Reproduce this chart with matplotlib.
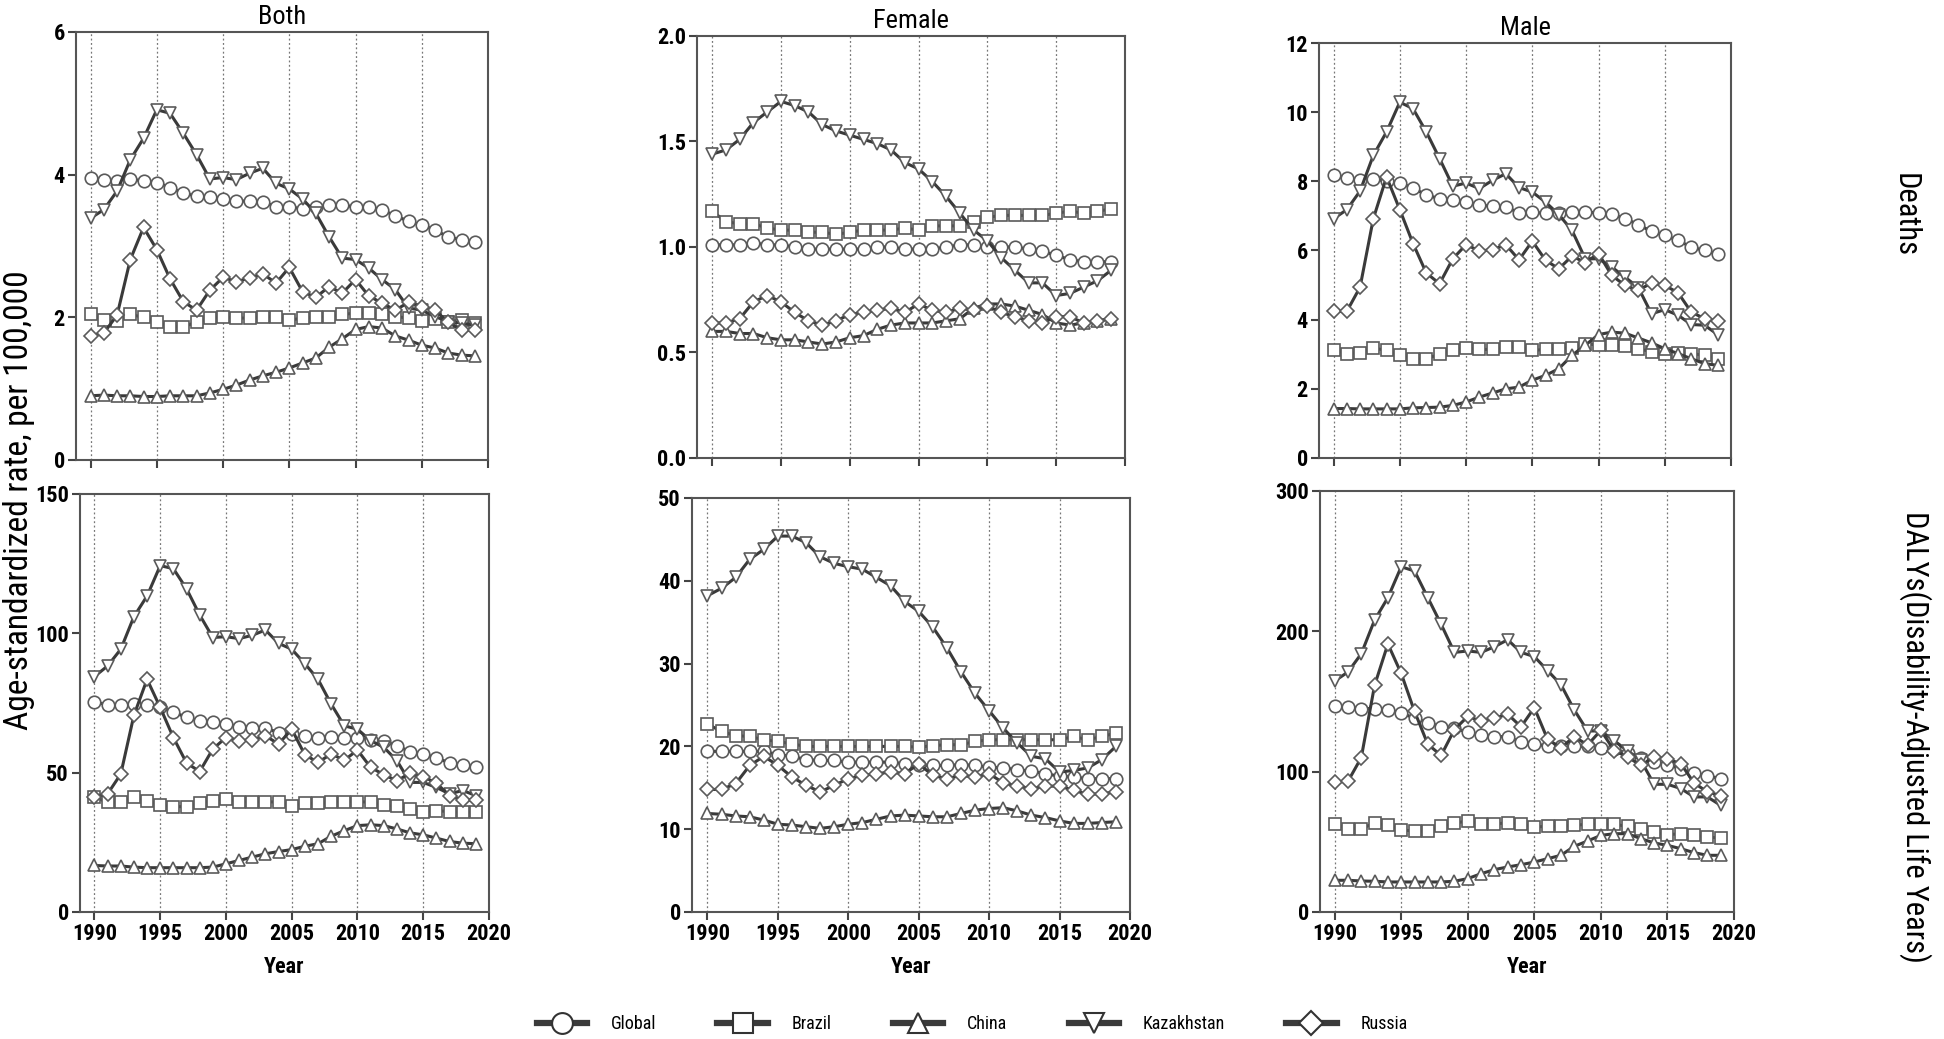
import matplotlib
matplotlib.use("Agg")
import matplotlib.pyplot as plt
from matplotlib import font_manager as fm
from matplotlib.lines import Line2D

years = list(range(1990, 2020))
countries = ["Global", "Brazil", "China", "Kazakhstan", "Russia"]
markers = ["o", "s", "^", "v", "D"]

# Deaths, both sexes
deaths_both_global = [3.96, 3.92, 3.91, 3.94, 3.91, 3.89, 3.82, 3.74, 3.70, 3.69, 3.66, 3.63, 3.63, 3.62, 3.55,
                      3.55, 3.52, 3.55, 3.57, 3.57, 3.55, 3.54, 3.51, 3.42, 3.35, 3.29, 3.23, 3.12, 3.09, 3.05]
deaths_both_brazil = [2.04, 1.96, 1.95, 2.04, 2.00, 1.93, 1.87, 1.87, 1.93, 1.99, 2.01, 1.99, 1.99, 2.01, 2.01,
                      1.96, 1.99, 2.00, 2.01, 2.04, 2.06, 2.06, 2.04, 2.01, 1.99, 1.95, 1.97, 1.94, 1.96, 1.92]
deaths_both_china = [0.90, 0.91, 0.90, 0.90, 0.89, 0.89, 0.90, 0.90, 0.90, 0.94, 0.99, 1.05, 1.12, 1.18, 1.23,
                     1.29, 1.36, 1.43, 1.58, 1.70, 1.83, 1.87, 1.85, 1.74, 1.68, 1.61, 1.57, 1.50, 1.47, 1.46]
deaths_both_kaz = [3.39, 3.51, 3.77, 4.21, 4.51, 4.91, 4.86, 4.58, 4.28, 3.94, 3.96, 3.93, 4.02, 4.09, 3.88,
                   3.80, 3.66, 3.46, 3.13, 2.83, 2.81, 2.69, 2.53, 2.39, 2.13, 2.10, 2.01, 1.94, 1.92, 1.89]
deaths_both_russia = [1.74, 1.78, 2.03, 2.81, 3.26, 2.95, 2.54, 2.22, 2.10, 2.38, 2.56, 2.50, 2.55, 2.61, 2.48,
                      2.70, 2.36, 2.28, 2.43, 2.34, 2.53, 2.30, 2.20, 2.10, 2.21, 2.15, 2.10, 1.93, 1.82, 1.82]

# Deaths, female
deaths_female_global = [1.01, 1.01, 1.01, 1.02, 1.01, 1.01, 1.00, 0.99, 0.99, 0.99, 0.99, 0.99, 1.00, 1.00, 0.99,
                        0.99, 0.99, 1.00, 1.01, 1.01, 1.00, 1.00, 1.00, 0.99, 0.98, 0.96, 0.94, 0.93, 0.93, 0.93]
deaths_female_brazil = [1.17, 1.12, 1.11, 1.11, 1.09, 1.08, 1.08, 1.07, 1.07, 1.06, 1.07, 1.08, 1.08, 1.08, 1.09,
                        1.08, 1.10, 1.10, 1.10, 1.12, 1.14, 1.15, 1.15, 1.15, 1.15, 1.16, 1.17, 1.16, 1.17, 1.18]
deaths_female_china = [0.60, 0.60, 0.59, 0.59, 0.57, 0.56, 0.56, 0.55, 0.54, 0.55, 0.57, 0.58, 0.61, 0.63, 0.64,
                       0.64, 0.64, 0.65, 0.66, 0.71, 0.73, 0.73, 0.72, 0.70, 0.68, 0.64, 0.63, 0.64, 0.65, 0.66]
deaths_female_kaz = [1.44, 1.46, 1.51, 1.59, 1.64, 1.69, 1.67, 1.64, 1.58, 1.55, 1.53, 1.51, 1.49, 1.46, 1.40,
                     1.37, 1.31, 1.24, 1.16, 1.08, 1.03, 0.95, 0.89, 0.83, 0.83, 0.77, 0.78, 0.81, 0.84, 0.89]
deaths_female_russia = [0.64, 0.64, 0.66, 0.74, 0.77, 0.74, 0.69, 0.65, 0.63, 0.65, 0.68, 0.69, 0.70, 0.71, 0.69,
                        0.73, 0.70, 0.69, 0.71, 0.70, 0.72, 0.69, 0.67, 0.65, 0.64, 0.67, 0.67, 0.64, 0.65, 0.66]

# Deaths, male
deaths_male_global = [8.17, 8.10, 8.03, 8.06, 8.01, 7.95, 7.81, 7.60, 7.50, 7.47, 7.40, 7.31, 7.28, 7.26, 7.09,
                      7.11, 7.07, 7.09, 7.11, 7.11, 7.09, 7.05, 6.92, 6.75, 6.55, 6.44, 6.29, 6.10, 6.00, 5.89]
deaths_male_brazil = [3.13, 3.02, 3.05, 3.18, 3.11, 2.97, 2.87, 2.87, 3.00, 3.13, 3.19, 3.14, 3.14, 3.21, 3.21,
                      3.11, 3.14, 3.16, 3.18, 3.31, 3.26, 3.26, 3.24, 3.16, 3.07, 3.02, 3.04, 3.02, 2.97, 2.87]
deaths_male_china = [1.43, 1.43, 1.42, 1.42, 1.42, 1.42, 1.45, 1.46, 1.47, 1.52, 1.62, 1.76, 1.88, 2.00, 2.05,
                     2.25, 2.39, 2.58, 2.97, 3.26, 3.57, 3.64, 3.61, 3.47, 3.33, 3.16, 3.02, 2.87, 2.73, 2.68]
deaths_male_kaz = [6.92, 7.18, 7.72, 8.75, 9.43, 10.29, 10.10, 9.43, 8.66, 7.86, 7.95, 7.79, 8.03, 8.22, 7.82,
                   7.69, 7.40, 7.04, 6.58, 5.76, 5.76, 5.52, 5.23, 4.93, 4.17, 4.29, 4.13, 3.86, 3.84, 3.57]
deaths_male_russia = [4.24, 4.24, 4.94, 6.92, 8.13, 7.18, 6.20, 5.35, 5.04, 5.76, 6.17, 5.99, 6.02, 6.17, 5.73,
                      6.27, 5.72, 5.47, 5.84, 5.65, 5.91, 5.28, 4.99, 4.85, 5.06, 4.99, 4.78, 4.22, 4.03, 3.95]

# DALYs, both sexes
dalys_both_global = [75.4, 74.3, 74.2, 74.6, 74.2, 73.4, 71.8, 69.8, 68.6, 68.3, 67.4, 66.5, 66.2, 66.0, 64.4,
                     63.8, 63.0, 62.6, 62.9, 62.6, 62.6, 61.7, 61.2, 59.7, 57.5, 56.7, 55.3, 53.5, 52.9, 51.9]
dalys_both_brazil = [41.2, 39.4, 39.4, 41.2, 40.0, 38.4, 37.8, 37.8, 39.1, 40.0, 40.6, 39.6, 39.4, 39.6, 39.4,
                     38.2, 39.0, 39.0, 39.4, 39.6, 39.6, 39.4, 38.4, 37.9, 36.8, 36.0, 36.4, 36.0, 35.8, 35.8]
dalys_both_china = [16.7, 16.5, 16.5, 16.1, 15.9, 15.9, 15.9, 15.9, 15.9, 16.1, 17.3, 18.5, 19.7, 20.9, 21.7,
                    22.4, 23.6, 24.5, 27.2, 29.2, 31.0, 31.3, 31.0, 29.8, 28.4, 27.7, 26.5, 25.3, 24.7, 24.5]
dalys_both_kaz = [84.5, 88.3, 94.3, 106.0, 113.4, 124.3, 123.2, 116.0, 106.6, 98.5, 98.8, 98.1, 99.3, 101.2, 96.4,
                  94.3, 89.1, 83.5, 74.6, 66.8, 65.6, 61.5, 59.1, 54.3, 46.5, 46.5, 44.7, 42.4, 43.6, 41.8]
dalys_both_russia = [41.2, 42.4, 49.5, 70.6, 83.5, 73.4, 62.6, 53.5, 50.4, 58.5, 62.6, 61.5, 61.7, 63.2, 60.3,
                     65.6, 56.4, 53.7, 56.7, 54.5, 58.1, 51.9, 49.3, 47.1, 49.8, 48.6, 46.2, 41.8, 40.2, 40.2]

# DALYs, female
dalys_female_global = [19.4, 19.4, 19.4, 19.4, 19.4, 19.0, 18.8, 18.4, 18.3, 18.3, 18.1, 18.1, 18.1, 18.1, 17.9,
                       17.7, 17.7, 17.7, 17.8, 17.7, 17.5, 17.4, 17.2, 17.0, 16.7, 16.4, 16.3, 16.1, 16.1, 16.1]
dalys_female_brazil = [22.7, 21.8, 21.3, 21.2, 20.8, 20.6, 20.3, 20.0, 20.0, 20.0, 20.0, 20.0, 20.0, 20.0, 20.0,
                       19.9, 20.1, 20.2, 20.2, 20.6, 20.8, 20.8, 20.8, 20.8, 20.8, 20.8, 21.2, 20.8, 21.2, 21.6]
dalys_female_china = [11.9, 11.8, 11.6, 11.5, 11.1, 10.6, 10.5, 10.3, 10.1, 10.3, 10.6, 10.8, 11.2, 11.6, 11.7,
                      11.6, 11.5, 11.5, 11.9, 12.3, 12.5, 12.6, 12.2, 11.7, 11.4, 11.0, 10.7, 10.7, 10.8, 10.9]
dalys_female_kaz = [38.2, 39.1, 40.4, 42.6, 43.8, 45.4, 45.4, 44.6, 42.9, 42.1, 41.7, 41.4, 40.4, 39.4, 37.5,
                    36.3, 34.4, 31.9, 29.0, 26.4, 24.3, 22.2, 20.4, 18.8, 18.5, 16.9, 17.1, 17.4, 18.4, 20.0]
dalys_female_russia = [14.8, 14.8, 15.5, 17.7, 18.8, 17.7, 16.3, 15.3, 14.5, 15.3, 16.1, 16.5, 16.7, 16.9, 16.7,
                       17.9, 16.5, 16.1, 16.5, 16.3, 16.7, 15.6, 15.2, 14.9, 15.2, 15.2, 14.7, 14.2, 14.3, 14.5]

# DALYs, male
dalys_male_global = [147, 146, 145, 145, 144, 142, 138, 135, 132, 131, 128, 126, 125, 125, 121,
                     120, 118, 118, 118, 118, 117, 116, 113, 110, 107, 105, 102, 99, 97, 95]
dalys_male_brazil = [62.5, 59.4, 59.4, 63.4, 61.8, 58.7, 57.5, 57.5, 61.0, 63.4, 64.8, 62.9, 62.9, 63.4, 62.9,
                     60.6, 61.0, 61.0, 61.8, 62.5, 62.9, 62.5, 61.0, 59.4, 57.0, 55.1, 55.8, 54.6, 53.4, 52.7]
dalys_male_china = [22.6, 22.6, 22.1, 21.9, 21.4, 21.4, 21.4, 21.4, 21.4, 21.9, 23.8, 27.3, 30.2, 32.1, 33.7,
                    35.6, 38.0, 40.4, 46.8, 50.6, 54.6, 55.8, 55.8, 52.3, 49.2, 47.5, 45.1, 42.3, 40.4, 40.4]
dalys_male_kaz = [164.6, 171, 184, 208, 224, 246, 243, 224, 205, 185, 186, 185, 189, 194, 185,
                  182, 172, 162, 144, 129, 129, 122, 115, 108, 91, 91, 88, 82, 82, 76]
dalys_male_russia = [92.6, 93.1, 110, 161.5, 191, 170, 143, 119.5, 111.6, 130, 139.4, 136, 138, 141, 132,
                     145.6, 123, 117, 125, 119, 129.5, 115, 110.5, 104.5, 110.5, 109, 105.7, 92, 85.5, 83]

# pick a condensed sans if one is installed (the original uses Arial Narrow)
names = {f.name for f in fm.fontManager.ttflist}
pref = ["Liberation Sans Narrow", "Arial Narrow", "Roboto Condensed", "Open Sans Condensed",
        "Noto Sans Condensed", "DejaVu Sans Condensed"]
cond = [n for n in pref if n in names]
if not cond:
    cond = sorted(n for n in names if ("Narrow" in n or "Condensed" in n) and "Mono" not in n and "Serif" not in n)
narrow = cond[:1] + ["Liberation Sans", "DejaVu Sans"]
is_narrow = bool(cond)

W, H = 1944, 1039
fig = plt.figure(figsize=(W / 100, H / 100), dpi=100)


def rect(l, t, r, b):
    return [l / W, 1 - b / H, (r - l) / W, (b - t) / H]


panels = [
    (rect(76, 32, 488, 460), [deaths_both_global, deaths_both_brazil, deaths_both_china, deaths_both_kaz, deaths_both_russia], 6, 2, "Both"),
    (rect(697, 36, 1125, 458), [deaths_female_global, deaths_female_brazil, deaths_female_china, deaths_female_kaz, deaths_female_russia], 2.0, 0.5, "Female"),
    (rect(1319, 43, 1731, 458), [deaths_male_global, deaths_male_brazil, deaths_male_china, deaths_male_kaz, deaths_male_russia], 12, 2, "Male"),
    (rect(80, 494, 489, 912), [dalys_both_global, dalys_both_brazil, dalys_both_china, dalys_both_kaz, dalys_both_russia], 150, 50, None),
    (rect(692, 498, 1130, 912), [dalys_female_global, dalys_female_brazil, dalys_female_china, dalys_female_kaz, dalys_female_russia], 50, 10, None),
    (rect(1320, 491, 1734, 912), [dalys_male_global, dalys_male_brazil, dalys_male_china, dalys_male_kaz, dalys_male_russia], 300, 100, None),
]

line_col = "#3a3a3a"
edge_col = "#5a5a5a"
tick_size = 16 if is_narrow else 14

for i, (pos, series, ymax, ystep, title) in enumerate(panels):
    ax = fig.add_axes(pos)
    for vals, m in zip(series, markers):
        ms = 9 if m != "D" else 7.5
        ax.plot(years, vals, color=line_col, lw=2.2, marker=m, ms=ms,
                mfc="white", mec=edge_col, mew=1.2, zorder=3)
    ax.set_xlim(1988.9, 2020)
    ax.set_ylim(0, ymax)
    yt = [k * ystep for k in range(int(round(ymax / ystep)) + 1)]
    ax.set_yticks(yt)
    if ystep < 1:
        ax.set_yticklabels([f"{v:.1f}" for v in yt])
    else:
        ax.set_yticklabels([f"{v:g}" for v in yt])
    ax.set_xticks(range(1990, 2021, 5))
    for gx in range(1990, 2020, 5):
        ax.axvline(gx, color="#777777", lw=0.9, ls=(0, (1.5, 2)), zorder=1)
    ax.tick_params(direction="out", length=6, width=1.5, color="#444444", pad=2)
    for lab in ax.get_xticklabels() + ax.get_yticklabels():
        lab.set_family(narrow)
        lab.set_fontweight("bold")
        lab.set_fontsize(tick_size)
    for sp in ax.spines.values():
        sp.set_color("#555555")
        sp.set_linewidth(1.5)
    if i < 3:
        ax.tick_params(labelbottom=False)
        ax.set_title(title, family=narrow, fontsize=19 if is_narrow else 17, pad=6)
    else:
        ax.set_xlabel("Year", family=narrow, fontweight="bold", fontsize=tick_size, labelpad=8)

fig.text(3 / W, 1 - 500 / H, "Age-standardized rate, per 100,000", rotation=90,
         family=narrow, fontsize=24 if is_narrow else 20, ha="left", va="center")
fig.text(1905 / W, 1 - 215 / H, "Deaths", rotation=-90, family=narrow,
         fontsize=22 if is_narrow else 19, ha="center", va="center")
fig.text(1915 / W, 1 - 737 / H, "DALYs(Disability-Adjusted Life Years)", rotation=-90,
         family=narrow, fontsize=22 if is_narrow else 19, ha="center", va="center")

handles = [Line2D([], [], color=line_col, lw=4.5, marker=m, ms=15 if m != "D" else 12,
                  mfc="white", mec="#333333", mew=1.5) for m in markers]
fig.legend(handles, countries, loc="center", bbox_to_anchor=(0.5, 1 - 1024 / H), ncol=5,
           frameon=False, handlelength=2.8, columnspacing=3.4, handletextpad=1.3,
           prop={"family": narrow, "size": 13 if is_narrow else 12})

fig.savefig("out.png", dpi=100)
